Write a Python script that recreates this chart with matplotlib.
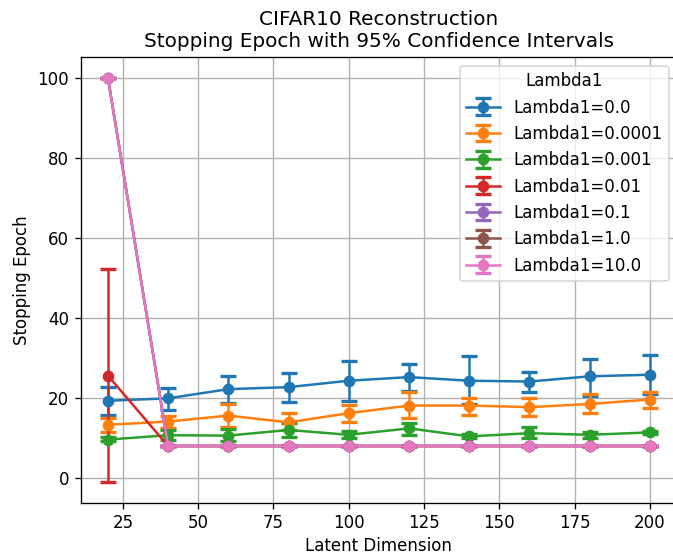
import matplotlib
matplotlib.use("Agg")
import matplotlib.pyplot as plt
import numpy as np

latent_dims = [20, 40, 60, 80, 100, 120, 140, 160, 180, 200]
lambdas = ["0.0", "0.0001", "0.001", "0.01", "0.1", "1.0", "10.0"]

# mean stopping epoch and CI bounds
mean_00 = [19.3, 19.9, 22.2, 22.7, 24.3, 25.2, 24.3, 24.1, 25.4, 25.8]
low_00 = [15.8, 17.1, 18.8, 18.9, 19.2, 21.8, 18.5, 21.6, 20.6, 21.0]
high_00 = [22.8, 22.4, 25.6, 26.3, 29.3, 28.5, 30.4, 26.4, 29.6, 30.8]

mean_1e4 = [13.3, 14.1, 15.6, 13.9, 16.2, 18.1, 18.1, 17.7, 18.5, 19.6]
low_1e4 = [11.4, 12.6, 12.7, 11.9, 14.1, 14.9, 15.8, 15.6, 16.2, 17.4]
high_1e4 = [14.9, 15.6, 18.5, 16.2, 18.3, 21.4, 20.0, 20.0, 21.0, 21.6]

mean_1e3 = [9.6, 10.7, 10.6, 12.0, 10.8, 12.4, 10.4, 11.2, 10.8, 11.4]
low_1e3 = [9.2, 9.6, 9.3, 10.2, 9.9, 10.8, 10.0, 10.0, 10.0, 11.0]
high_1e3 = [10.2, 12.0, 12.2, 13.7, 11.8, 13.8, 11.0, 12.7, 11.6, 11.8]

mean_1e2 = [25.6, 8, 8, 8, 8, 8, 8, 8, 8, 8]
low_1e2 = [-1.1, 8, 8, 8, 8, 8, 8, 8, 8, 8]
high_1e2 = [52.2, 8, 8, 8, 8, 8, 8, 8, 8, 8]

mean_big = [100, 8, 8, 8, 8, 8, 8, 8, 8, 8]

means = [mean_00, mean_1e4, mean_1e3, mean_1e2, mean_big, mean_big, mean_big]
lows = [low_00, low_1e4, low_1e3, low_1e2, mean_big, mean_big, mean_big]
highs = [high_00, high_1e4, high_1e3, high_1e2, mean_big, mean_big, mean_big]

fig, ax = plt.subplots(figsize=(673 / 120, 554 / 120), dpi=120)
for lam, m, lo, hi in zip(lambdas, means, lows, highs):
    m = np.array(m, dtype=float)
    err = [m - np.array(lo), np.array(hi) - m]
    ax.errorbar(latent_dims, m, yerr=err, marker="o", capsize=5, capthick=2,
                label=f"Lambda1={lam}")

ax.set_xlabel("Latent Dimension", labelpad=2.5)
ax.set_ylabel("Stopping Epoch")
ax.set_title("CIFAR10 Reconstruction\nStopping Epoch with 95% Confidence Intervals")
ax.legend(title="Lambda1", loc="upper right")
ax.grid(True)
# the reference screenshot clips the right spine just off the edge
fig.subplots_adjust(left=0.12, right=1.006, top=0.8966, bottom=0.0926)
fig.savefig("out.png", dpi=120)
